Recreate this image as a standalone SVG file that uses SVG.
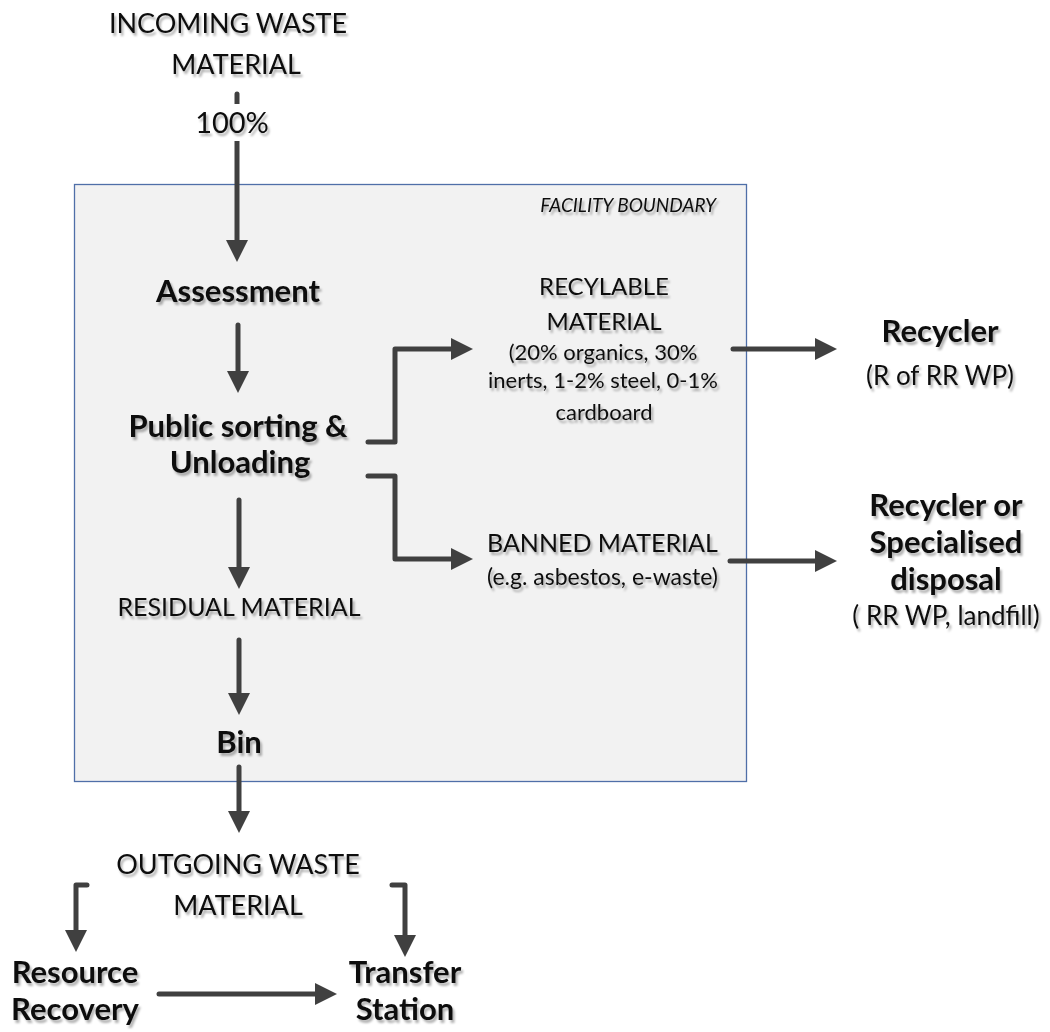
<svg xmlns="http://www.w3.org/2000/svg" width="1050" height="1032" viewBox="0 0 1050 1032">
  <defs>
    <style>
      .t{font-family:Lato,"Open Sans","Liberation Sans",sans-serif;fill:#111;text-anchor:middle;filter:url(#sh)}
      .b{font-weight:bold;font-size:31px}
      .h{font-size:27px}
      .m{font-size:25px}
      .s{font-size:22px}
      .c{fill:none;stroke:#404040;stroke-width:5;stroke-linecap:round;stroke-linejoin:round;marker-end:url(#ah)}
    </style>
    <filter id="sh" x="-10%" y="-30%" width="120%" height="170%">
      <feDropShadow dx="2" dy="3" stdDeviation="1" flood-color="#000" flood-opacity="0.3"/>
    </filter>
    <marker id="ah" markerUnits="userSpaceOnUse" markerWidth="22" markerHeight="22" viewBox="0 0 22 22" refX="2" refY="11" orient="auto">
      <path d="M0,0 L22,11 L0,22 z" fill="#404040"/>
    </marker>
  </defs>

  <rect width="1050" height="1032" fill="#fff"/>

  <!-- facility boundary -->
  <g id="facility">
    <rect x="74.5" y="184.5" width="672" height="597" fill="#f2f2f2" stroke="#4f6fa8" stroke-width="1.3"/>
    <text class="t" x="716" y="212" style="text-anchor:end;font-style:italic;font-size:19px">FACILITY BOUNDARY</text>
  </g>

  <!-- connectors -->
  <g id="connectors">
    <path class="c" d="M237,94 V242"/>
    <path class="c" d="M238,325 V373"/>
    <path class="c" d="M368,442 H395 V349 H453"/>
    <path class="c" d="M368,476 H395 V559 H453"/>
    <path class="c" d="M733,349 H817"/>
    <path class="c" d="M730,561 H817"/>
    <path class="c" d="M239,500 V569"/>
    <path class="c" d="M239,640 V695"/>
    <path class="c" d="M239,767 V813"/>
    <path class="c" d="M87,885 H76 V932"/>
    <path class="c" d="M392,885 H405 V937"/>
    <path class="c" d="M159,994 H317"/>
    <!-- label on the incoming flow -->
    <rect x="188" y="104" width="96" height="37" fill="#fff"/>
    <text class="t" x="232" y="133" style="font-size:29px">100%</text>
  </g>

  <g id="incoming">
    <text class="t h" x="228" y="33">INCOMING WASTE</text>
    <text class="t h" x="236" y="74">MATERIAL</text>
  </g>

  <g id="assessment">
    <text class="t b" x="238" y="302">Assessment</text>
  </g>

  <g id="sorting">
    <text class="t b" x="238" y="437">Public sorting &amp;</text>
    <text class="t b" x="240" y="473">Unloading</text>
  </g>

  <g id="recyclable">
    <text class="t" x="604" y="295" style="font-size:24px">RECYLABLE</text>
    <text class="t" x="604" y="330" style="font-size:24px">MATERIAL</text>
    <text class="t s" x="603" y="360">(20% organics, 30%</text>
    <text class="t s" x="603" y="388">inerts, 1-2% steel, 0-1%</text>
    <text class="t s" x="604" y="420">cardboard</text>
  </g>

  <g id="banned">
    <text class="t m" x="487" y="552" style="text-anchor:start">BANNED MATERIAL</text>
    <text class="t" x="487" y="585" style="text-anchor:start;font-size:23px">(e.g. asbestos, e-waste)</text>
  </g>

  <g id="recycler">
    <text class="t b" x="940" y="342">Recycler</text>
    <text class="t" x="940" y="385" style="font-size:26px">(R of RR WP)</text>
  </g>

  <g id="specialised">
    <text class="t b" x="946" y="516">Recycler or</text>
    <text class="t b" x="946" y="553">Specialised</text>
    <text class="t b" x="946" y="590">disposal</text>
    <text class="t" x="946" y="625" style="font-size:26px">( RR WP, landfill)</text>
  </g>

  <g id="residual">
    <text class="t m" x="239" y="616">RESIDUAL MATERIAL</text>
  </g>

  <g id="bin">
    <text class="t b" x="239" y="753">Bin</text>
  </g>

  <g id="outgoing">
    <text class="t h" x="238" y="874">OUTGOING WASTE</text>
    <text class="t h" x="238" y="915">MATERIAL</text>
  </g>

  <g id="resource">
    <text class="t b" x="75" y="983">Resource</text>
    <text class="t b" x="75" y="1020">Recovery</text>
  </g>

  <g id="transfer">
    <text class="t b" x="405" y="983">Transfer</text>
    <text class="t b" x="405" y="1020">Station</text>
  </g>
</svg>
